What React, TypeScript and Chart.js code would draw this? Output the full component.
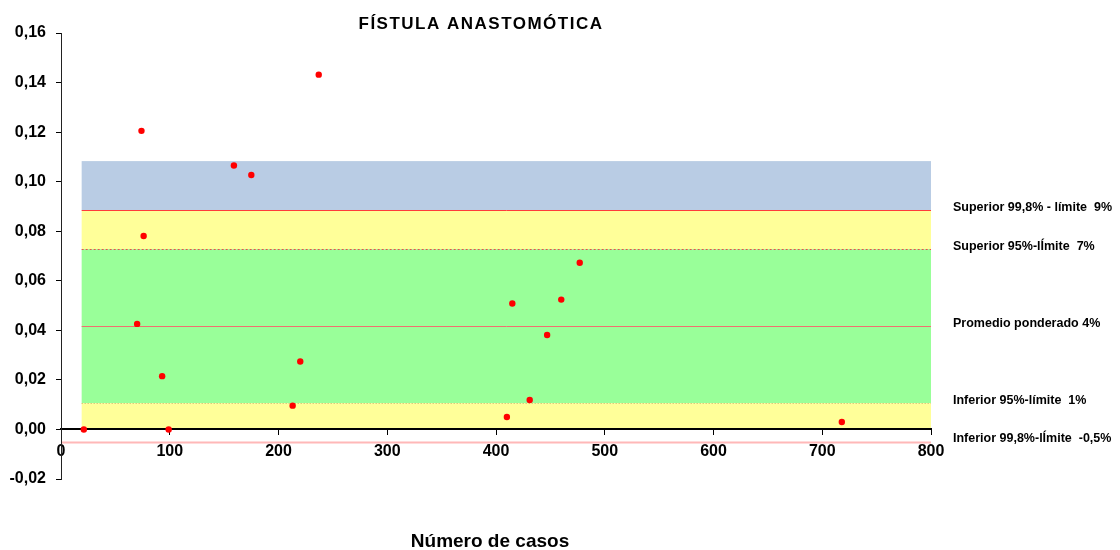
import React, { useEffect, useRef } from "react";
import { Chart, registerables } from "chart.js";

Chart.register(...registerables);

// Scatter data: number of cases vs. anastomotic fistula rate
const casesX = [21, 70, 74, 76, 93, 99, 159, 175, 213, 220, 237, 410, 415, 431, 447, 460, 477, 718];
const rateY = [0, 0.0426, 0.1205, 0.0781, 0.0215, 0, 0.1065, 0.1027, 0.0096, 0.0274, 0.1432, 0.005, 0.0508, 0.0119, 0.0381, 0.0524, 0.0673, 0.003];

// Control limits
const upper998 = 0.0885;
const upper95 = 0.0728;
const weightedMean = 0.0417;
const lower95 = 0.0106;
const lower998 = -0.005;
const bandTop = 0.1083;
const bandXStart = 19;
const bandXEnd = 800;

const limitValues = [upper998, upper95, weightedMean, lower95, lower998];
const limitLabels = [
  "Superior 99,8% - límite  9%",
  "Superior 95%-lÍmite  7%",
  "Promedio ponderado 4%",
  "Inferior 95%-límite  1%",
  "Inferior 99,8%-lÍmite  -0,5%",
];

const chartTitle = "FÍSTULA ANASTOMÓTICA";
const xAxisTitle = "Número de casos";

const yMin = -0.02;
const yMax = 0.16;
const yStep = 0.02;
const xMin = 0;
const xMax = 800;
const xStep = 100;

const FONT = "'Liberation Sans', Arial, sans-serif";

const bandsPlugin = {
  id: "controlBands",
  beforeDraw(chart: any) {
    const { ctx, scales } = chart;
    const x = scales.x;
    const y = scales.y;
    const xs = x.getPixelForValue(bandXStart);
    const xe = x.getPixelForValue(bandXEnd);
    const rect = (lo: number, hi: number, color: string) => {
      const yt = y.getPixelForValue(hi);
      const yb = y.getPixelForValue(lo);
      ctx.fillStyle = color;
      ctx.fillRect(xs, yt, xe - xs, yb - yt);
    };
    ctx.save();
    rect(upper998, bandTop, "#b9cce4");
    rect(upper95, upper998, "#ffff99");
    rect(lower95, upper95, "#99ff99");
    rect(0, lower95, "#ffff99");

    const hline = (v: number, color: string, width: number, dash: number[], from: number) => {
      const py = Math.round(y.getPixelForValue(v)) + 0.5;
      ctx.beginPath();
      ctx.setLineDash(dash);
      ctx.strokeStyle = color;
      ctx.lineWidth = width;
      ctx.moveTo(x.getPixelForValue(from), py);
      ctx.lineTo(xe, py);
      ctx.stroke();
    };
    hline(upper998, "#ff3b3b", 1, [], bandXStart);
    hline(upper95, "#e85050", 1, [2, 2], bandXStart);
    hline(weightedMean, "#f07070", 1, [], bandXStart);
    hline(lower95, "#d0b060", 1, [1, 2], bandXStart);
    hline(lower998, "#ffb8b8", 2, [], xMin);
    ctx.restore();
  },
  afterDraw(chart: any) {
    const { ctx, scales, chartArea } = chart;
    const y = scales.y;
    ctx.save();
    ctx.fillStyle = "#000";
    ctx.textBaseline = "middle";
    // title
    ctx.font = `bold 17px ${FONT}`;
    ctx.textAlign = "center";
    (ctx as any).letterSpacing = "1.5px";
    ctx.fillText(chartTitle, 481, 24);
    (ctx as any).letterSpacing = "0px";
    // x axis title
    ctx.font = `bold 19px ${FONT}`;
    ctx.fillText(xAxisTitle, 490, 542);
    // limit labels
    ctx.font = `bold 12.5px ${FONT}`;
    ctx.textAlign = "left";
    limitValues.forEach((v, i) => {
      ctx.fillText(limitLabels[i], chartArea.right + 22, y.getPixelForValue(v) - 3);
    });
    ctx.restore();
  },
};

export default function App() {
  const canvasRef = useRef<HTMLCanvasElement | null>(null);

  useEffect(() => {
    if (!canvasRef.current) return;
    const data = casesX.map((cx, i) => ({ x: cx, y: rateY[i] }));
    const chart = new Chart(canvasRef.current, {
      type: "scatter",
      data: {
        datasets: [
          {
            data,
            backgroundColor: "#ff0000",
            borderWidth: 0,
            pointRadius: 3.2,
            pointHoverRadius: 3.2,
          },
        ],
      },
      options: {
        responsive: false,
        animation: false,
        devicePixelRatio: 1,
        layout: { padding: { left: 0, right: 189, top: 33, bottom: 71 } },
        plugins: {
          legend: { display: false },
          title: { display: false },
          tooltip: { enabled: false },
        },
        scales: {
          x: {
            type: "linear",
            position: { y: 0 } as any,
            min: xMin,
            max: xMax,
            afterFit: (s: any) => {
              s.height = 0;
            },
            ticks: {
              stepSize: xStep,
              color: "#000",
              font: { family: FONT, size: 16, weight: "bold" },
              padding: 8,
              maxRotation: 0,
            },
            grid: {
              drawOnChartArea: false,
              drawTicks: true,
              tickLength: 5,
              color: "#000",
            },
            border: { display: true, color: "#000", width: 2 },
          },
          y: {
            type: "linear",
            min: yMin,
            max: yMax,
            afterFit: (s: any) => {
              s.width = 61;
            },
            ticks: {
              stepSize: yStep,
              color: "#000",
              font: { family: FONT, size: 16, weight: "bold" },
              padding: 10,
              callback: (v: any) => Number(v).toFixed(2).replace(".", ","),
            },
            grid: {
              drawOnChartArea: false,
              drawTicks: true,
              tickLength: 5,
              color: "#000",
            },
            border: { display: true, color: "#222", width: 1 },
          },
        },
      },
      plugins: [bandsPlugin],
    });
    return () => chart.destroy();
  }, []);

  return (
    <div style={{ position: "absolute", left: 0, top: 0, width: 1120, height: 550, background: "#fff" }}>
      <canvas ref={canvasRef} width={1120} height={550} style={{ display: "block" }} />
    </div>
  );
}
